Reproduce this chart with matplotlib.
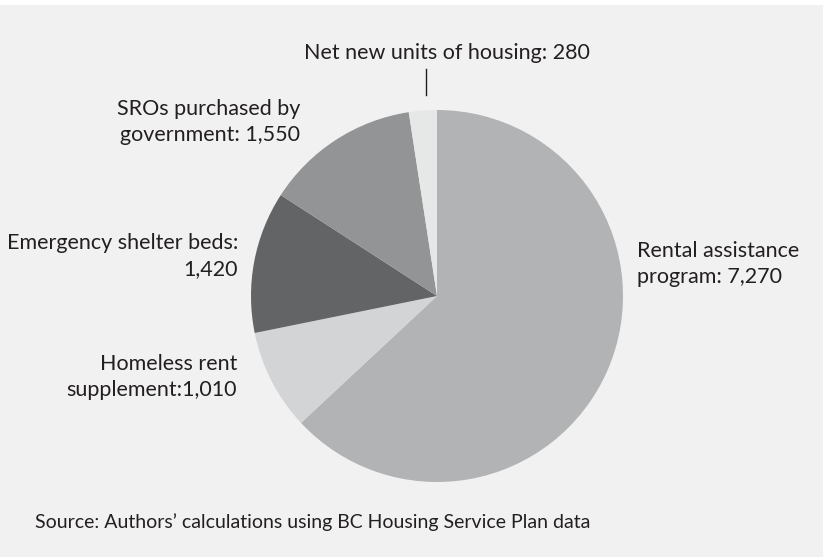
import matplotlib
matplotlib.use("Agg")
import matplotlib.pyplot as plt
from matplotlib.patches import Rectangle

categories = ["Rental assistance program", "Homeless rent supplement",
              "Emergency shelter beds", "SROs purchased by government",
              "Net new units of housing"]
values = [7270, 1010, 1420, 1550, 280]
labels = ["Rental assistance\nprogram: 7,270", "Homeless rent\nsupplement:1,010",
          "Emergency shelter beds:\n1,420", "SROs purchased by\ngovernment: 1,550",
          "Net new units of housing: 280"]
colors = ["#b2b3b5", "#d3d4d6", "#636466", "#939496", "#e6e7e7"]
source = "Source: Authors\u2019 calculations using BC Housing Service Plan data"

W, H = 823, 557
fig = plt.figure(figsize=(W / 100, H / 100), dpi=100)
fig.patch.set_facecolor("#f1f1f1")
ax = fig.add_axes([0, 0, 1, 1])

def Y(py):
    return H - py

cx, cy, r = 437, 296, 186
ax.pie(values, colors=colors, startangle=90, counterclock=False,
       center=(cx, Y(cy)), radius=r, frame=True,
       wedgeprops=dict(linewidth=0))
ax.set_xlim(0, W)
ax.set_ylim(0, H)
ax.set_aspect("equal")
ax.axis("off")
ax.add_patch(Rectangle((0, Y(5)), W, 5, facecolor="white", edgecolor="none", zorder=0))

fam = ["Lato", "DejaVu Sans"]
tc = "#231f20"
fs = 15.5
ls = 1.38
ax.text(637, Y(264), labels[0], ha="left", va="center", fontsize=fs, family=fam,
        color=tc, linespacing=ls)
ax.text(237, Y(377), labels[1], ha="right", va="center", fontsize=fs, family=fam,
        color=tc, linespacing=ls, multialignment="right")
ax.text(238, Y(256), labels[2], ha="right", va="center", fontsize=fs, family=fam,
        color=tc, linespacing=ls, multialignment="right")
ax.text(300, Y(122), labels[3], ha="right", va="center", fontsize=fs, family=fam,
        color=tc, linespacing=ls, multialignment="right")
ax.text(447, Y(53), labels[4], ha="center", va="center", fontsize=fs, family=fam,
        color=tc)
ax.plot([426, 426], [Y(69), Y(95)], color=tc, lw=1.0)

ax.text(35, Y(522), source, ha="left", va="center", fontsize=14, family=fam, color=tc)

fig.savefig("out.png", dpi=100, facecolor=fig.get_facecolor())
